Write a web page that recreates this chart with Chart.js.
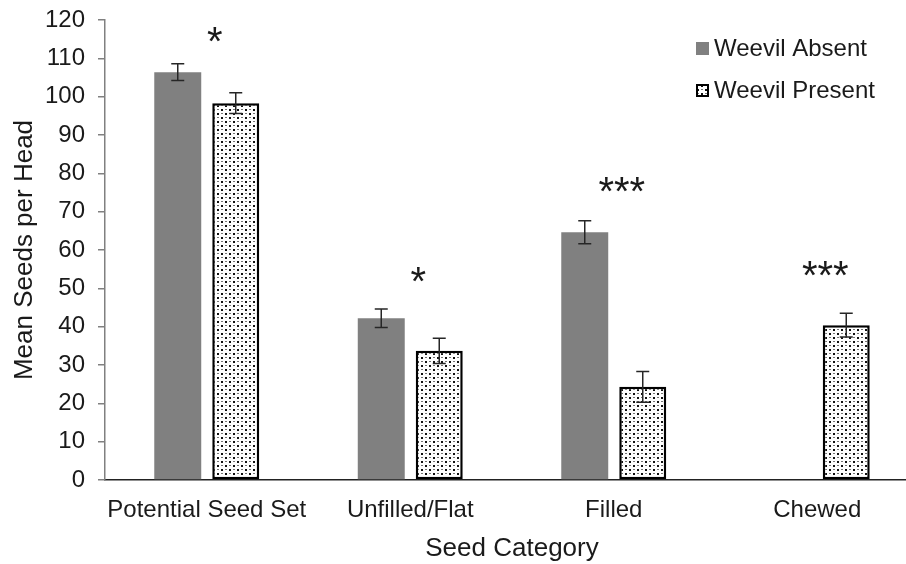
<!DOCTYPE html>
<html>
<head>
<meta charset="utf-8">
<script src="https://cdn.jsdelivr.net/npm/chart.js@4.4.1/dist/chart.umd.min.js"></script>
<style>
  html, body { margin: 0; padding: 0; overflow: hidden; background: #fff; }
  canvas { display: block; }
</style>
</head>
<body>
<canvas id="seedChart" width="920" height="564"></canvas>
<script>
// Seed counts per head, with and without weevils (mean ± SE)
const categories = ['Potential Seed Set', 'Unfilled/Flat', 'Filled', 'Chewed'];
const absentMeans = [106.4, 42.2, 64.6, 0];
const absentErrors = [2.2, 2.4, 3.0, null];
const presentMeans = [98.3, 33.7, 24.3, 40.4];
const presentErrors = [2.7, 3.3, 4.0, 3.1];
// Significance marks and the height (in seeds) they sit at
const significance = ['*', '*', '***', '***'];
const significanceLevels = [116.1, 53.5, 77.0, 55.3];
const yMin = 0, yMax = 120, yStep = 10;

const FONT = "'Liberation Sans', Arial, Helvetica, sans-serif";
const TEXT = '#1a1a1a';
const GRAY = '#808080';

// Dotted fill used for the "Weevil Present" bars
function makeDotPattern() {
  const tile = document.createElement('canvas');
  tile.width = 8; tile.height = 8;
  const t = tile.getContext('2d');
  t.fillStyle = '#fff';
  t.fillRect(0, 0, 8, 8);
  t.fillStyle = '#111';
  t.fillRect(1, 1, 2, 2);
  t.fillRect(5, 5, 2, 2);
  t.fillStyle = '#777';
  t.fillRect(5, 1, 2, 1);
  t.fillRect(1, 5, 2, 1);
  return t.createPattern(tile, 'repeat');
}
const ctx = document.getElementById('seedChart').getContext('2d');
const dots = makeDotPattern();

// Mean ± SE whiskers over each bar
const errorBars = {
  id: 'errorBars',
  afterDatasetsDraw(chart) {
    const c = chart.ctx, ys = chart.scales.y;
    chart.data.datasets.forEach((ds, i) => {
      const meta = chart.getDatasetMeta(i);
      meta.data.forEach((bar, j) => {
        const e = ds.errors[j];
        if (e == null) return;
        const v = ds.data[j];
        const top = ys.getPixelForValue(v + e);
        const bot = ys.getPixelForValue(v - e);
        const half = 6.5;
        c.save();
        c.strokeStyle = '#262626';
        c.lineWidth = 1.5;
        c.beginPath();
        c.moveTo(bar.x, top); c.lineTo(bar.x, bot);
        c.moveTo(bar.x - half, top); c.lineTo(bar.x + half, top);
        c.moveTo(bar.x - half, bot); c.lineTo(bar.x + half, bot);
        c.stroke();
        c.restore();
      });
    });
  }
};

// Asterisks marking significant differences
const sigMarks = {
  id: 'sigMarks',
  afterDraw(chart) {
    const c = chart.ctx, xs = chart.scales.x, ys = chart.scales.y;
    c.save();
    c.font = '40px ' + FONT;
    c.fillStyle = TEXT;
    c.textAlign = 'center';
    c.textBaseline = 'alphabetic';
    significance.forEach((mark, j) => {
      const m = c.measureText(mark);
      const cx = xs.getPixelForValue(j) + 8;
      const cy = ys.getPixelForValue(significanceLevels[j]);
      const base = cy + (m.actualBoundingBoxAscent - m.actualBoundingBoxDescent) / 2;
      c.fillText(mark, cx, base);
    });
    c.restore();
  }
};

// Legend inside the plot, top right
const insetLegend = {
  id: 'insetLegend',
  afterDraw(chart) {
    const c = chart.ctx, area = chart.chartArea;
    const x0 = area.right - 223;
    const rows = [42, 84];
    c.save();
    c.font = '24px ' + FONT;
    c.textBaseline = 'middle';
    c.textAlign = 'left';
    chart.data.datasets.forEach((ds, i) => {
      const y = rows[i];
      const size = 13;
      c.fillStyle = ds.backgroundColor;
      c.fillRect(x0, y, size, size);
      if (ds.borderWidth) {
        c.strokeStyle = ds.borderColor;
        c.lineWidth = 2;
        c.strokeRect(x0 + 1, y + 1, size - 2, size - 2);
      }
      c.fillStyle = TEXT;
      c.fillText(ds.label, x0 + size + 5, y + size / 2 + 1);
    });
    c.restore();
  }
};

new Chart(ctx, {
  type: 'bar',
  data: {
    labels: categories,
    datasets: [
      {
        label: 'Weevil Absent',
        data: absentMeans,
        errors: absentErrors,
        backgroundColor: GRAY,
        borderWidth: 0,
        categoryPercentage: 0.57,
        barPercentage: 0.81
      },
      {
        label: 'Weevil Present',
        data: presentMeans,
        errors: presentErrors,
        backgroundColor: dots,
        borderColor: '#000',
        borderWidth: 2.5,
        borderSkipped: false,
        categoryPercentage: 0.57,
        barPercentage: 0.81
      }
    ]
  },
  options: {
    responsive: false,
    animation: false,
    devicePixelRatio: 1,
    layout: { padding: { top: 20, right: 1, bottom: 0, left: 0 } },
    plugins: {
      legend: { display: false },
      tooltip: { enabled: false }
    },
    scales: {
      x: {
        offset: true,
        grid: { display: false },
        border: { display: true, color: '#222', width: 1.5 },
        ticks: { color: TEXT, font: { family: FONT, size: 24 }, padding: 8, maxRotation: 0, autoSkip: false },
        title: { display: true, text: 'Seed Category', color: TEXT, font: { family: FONT, size: 26 }, padding: { top: 0, bottom: 0 } },
        afterFit(scale) { scale.height = 84; scale.paddingLeft = 0; scale.paddingRight = 0; }
      },
      y: {
        min: yMin,
        max: yMax,
        ticks: { stepSize: yStep, color: TEXT, font: { family: FONT, size: 24 }, padding: 13 },
        grid: { drawOnChartArea: false, drawTicks: true, tickLength: 7, color: GRAY, lineWidth: 1.5 },
        border: { display: true, color: GRAY, width: 1.5 },
        title: { display: true, text: 'Mean Seeds per Head', color: TEXT, font: { family: FONT, size: 26 }, padding: { top: 9, bottom: 0 } },
        afterFit(scale) { scale.width = 105; scale.paddingTop = 0; scale.paddingBottom = 0; }
      }
    }
  },
  plugins: [errorBars, sigMarks, insetLegend]
});
</script>
</body>
</html>
